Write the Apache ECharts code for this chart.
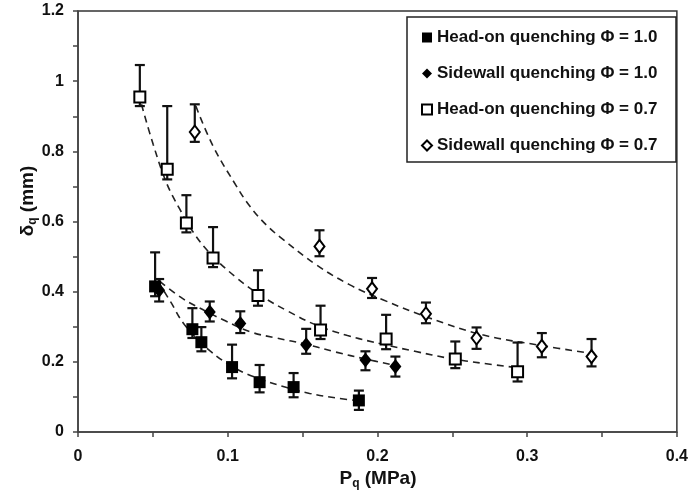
<!DOCTYPE html>
<html>
<head>
<meta charset="utf-8">
<script src="https://cdn.jsdelivr.net/npm/echarts@6/dist/echarts.min.js"></script>
<style>html,body{margin:0;padding:0;background:#fff}#c{width:691px;height:494px}</style>
</head>
<body>
<div id="c"></div>
<script>
// ---- Data ----
const seriesNames = ['Head-on quenching \u03A6 = 1.0', 'Sidewall quenching \u03A6 = 1.0', 'Head-on quenching \u03A6 = 0.7', 'Sidewall quenching \u03A6 = 0.7'];

const hq10X  = [0.0515, 0.0764, 0.0824, 0.1029, 0.1213, 0.144, 0.1876];
const hq10Y  = [0.415, 0.293, 0.256, 0.185, 0.142, 0.128, 0.090];
const hq10Hi = [0.512, 0.353, 0.299, 0.249, 0.191, 0.168, 0.118];
const hq10Lo = [0.387, 0.268, 0.230, 0.153, 0.113, 0.099, 0.063];

const sq10X  = [0.0542, 0.088, 0.1084, 0.1524, 0.192, 0.212];
const sq10Y  = [0.404, 0.342, 0.309, 0.249, 0.205, 0.187];
const sq10Hi = [0.436, 0.372, 0.344, 0.294, 0.230, 0.215];
const sq10Lo = [0.372, 0.315, 0.282, 0.223, 0.176, 0.158];

const hq07X  = [0.0413, 0.0596, 0.0724, 0.0902, 0.1202, 0.162, 0.2058, 0.252, 0.2936];
const hq07Y  = [0.955, 0.749, 0.596, 0.496, 0.389, 0.291, 0.265, 0.208, 0.172];
const hq07Hi = [1.046, 0.929, 0.675, 0.584, 0.461, 0.360, 0.334, 0.258, 0.255];
const hq07Lo = [0.929, 0.720, 0.569, 0.470, 0.360, 0.265, 0.236, 0.182, 0.144];

const sq07X  = [0.078, 0.1613, 0.1964, 0.2324, 0.2662, 0.3098, 0.343];
const sq07Y  = [0.855, 0.529, 0.408, 0.337, 0.268, 0.244, 0.215];
const sq07Hi = [0.934, 0.575, 0.439, 0.369, 0.298, 0.282, 0.265];
const sq07Lo = [0.827, 0.501, 0.382, 0.310, 0.237, 0.213, 0.187];

// dashed trend curves
const fitHq10X = [0.0533, 0.062, 0.0713, 0.088, 0.1058, 0.123, 0.14, 0.1547, 0.1724, 0.1876];
const fitHq10Y = [0.43, 0.37, 0.305, 0.232, 0.18, 0.149, 0.126, 0.11, 0.097, 0.089];
const fitSq10X = [0.0547, 0.07, 0.085, 0.0969, 0.1147, 0.1324, 0.1524, 0.172, 0.192, 0.212];
const fitSq10Y = [0.429, 0.38, 0.345, 0.32, 0.286, 0.268, 0.25, 0.228, 0.208, 0.19];
const fitHq07X = [0.0424, 0.0502, 0.0591, 0.068, 0.0769, 0.088, 0.1058, 0.1236, 0.14, 0.159, 0.18, 0.2036, 0.225, 0.248, 0.27, 0.2924];
const fitHq07Y = [0.934, 0.82, 0.71, 0.635, 0.57, 0.51, 0.44, 0.385, 0.345, 0.305, 0.275, 0.25, 0.23, 0.21, 0.196, 0.184];
const fitSq07X = [0.0787, 0.0902, 0.1058, 0.1147, 0.1258, 0.1369, 0.159, 0.1813, 0.2036, 0.2347, 0.2702, 0.3102, 0.3413];
const fitSq07Y = [0.929, 0.815, 0.701, 0.644, 0.59, 0.549, 0.477, 0.42, 0.377, 0.325, 0.277, 0.246, 0.225];

const xTicks = [0, 0.1, 0.2, 0.3, 0.4];
const yTicks = [0, 0.2, 0.4, 0.6, 0.8, 1, 1.2];

// ---- Build ----
const FONT = '"Liberation Sans", Arial, sans-serif';
const zip = (a, b) => a.map((v, i) => [v, b[i]]);
const zip3 = (a, b, c) => a.map((v, i) => [v, b[i], c[i]]);

function errRender(params, api) {
  const x = api.value(0), lo = api.value(1), hi = api.value(2);
  const t = api.coord([x, hi]);
  const b = api.coord([x, lo]);
  const w = 5;
  const st = { stroke: '#111', lineWidth: 2.2 };
  return {
    type: 'group',
    children: [
      { type: 'line', shape: { x1: t[0], y1: t[1], x2: b[0], y2: b[1] }, style: st },
      { type: 'line', shape: { x1: t[0] - w, y1: t[1], x2: t[0] + w, y2: t[1] }, style: st },
      { type: 'line', shape: { x1: b[0] - w, y1: b[1], x2: b[0] + w, y2: b[1] }, style: st }
    ]
  };
}

function errSeries(x, lo, hi) {
  return {
    type: 'custom', renderItem: errRender, data: zip3(x, lo, hi),
    encode: { x: 0, y: [1, 2] }, z: 2, silent: true
  };
}
function fitSeries(x, y) {
  return {
    type: 'line', data: zip(x, y), smooth: 0.4, showSymbol: false, symbol: 'none', z: 1,
    lineStyle: { color: '#222', width: 1.6, type: [7, 5] }, silent: true
  };
}

const markers = [
  { name: seriesNames[0], data: zip(hq10X, hq10Y), symbol: 'rect', symbolSize: 12, itemStyle: { color: '#000', borderWidth: 0, opacity: 1 } },
  { name: seriesNames[1], data: zip(sq10X, sq10Y), symbol: 'diamond', symbolSize: [12, 15], itemStyle: { color: '#000', borderWidth: 0, opacity: 1 } },
  { name: seriesNames[2], data: zip(hq07X, hq07Y), symbol: 'rect', symbolSize: 11, itemStyle: { color: '#fff', borderColor: '#000', borderWidth: 2, opacity: 1 } },
  { name: seriesNames[3], data: zip(sq07X, sq07Y), symbol: 'diamond', symbolSize: [10, 13], itemStyle: { color: '#fff', borderColor: '#000', borderWidth: 2, opacity: 1 } }
].map(s => Object.assign({ type: 'scatter', z: 3 }, s));

const chart = echarts.init(document.getElementById('c'));
chart.setOption({
  animation: false,
  backgroundColor: '#fff',
  textStyle: { fontFamily: FONT },
  grid: { left: 78, right: 13, top: 11, bottom: 62, show: true, borderColor: '#333', borderWidth: 1.5, backgroundColor: 'transparent' },
  xAxis: {
    type: 'value', min: 0, max: 0.4, interval: 0.05,
    axisLine: { lineStyle: { color: '#444', width: 1.5 } },
    axisTick: { show: true, length: 5, lineStyle: { color: '#444', width: 1.5 } },
    splitLine: { show: false },
    axisLabel: {
      color: '#111', fontWeight: 'bold', fontSize: 16, fontFamily: FONT, margin: 17,
      formatter: v => { const m = xTicks.find(t => Math.abs(t - v) < 1e-9); return m === undefined ? '' : String(m); }
    }
  },
  yAxis: {
    type: 'value', min: 0, max: 1.2, interval: 0.1,
    axisLine: { lineStyle: { color: '#444', width: 1.5 } },
    axisTick: { show: true, length: 5, lineStyle: { color: '#444', width: 1.5 } },
    splitLine: { show: false },
    axisLabel: {
      color: '#111', fontWeight: 'bold', fontSize: 16, fontFamily: FONT, margin: 14,
      formatter: v => { const m = yTicks.find(t => Math.abs(t - v) < 1e-9); return m === undefined ? '' : String(m); }
    }
  },
  legend: {
    orient: 'vertical', left: 421, top: 29, itemGap: 19, itemWidth: 10, itemHeight: 10, z: 20, padding: 0,
    data: seriesNames,
    textStyle: { color: '#111', fontWeight: 'bold', fontSize: 17, fontFamily: FONT },
    selectedMode: false
  },
  graphic: [
    { type: 'rect', shape: { x: 407, y: 17, width: 269, height: 145 }, style: { fill: '#fff', stroke: '#222', lineWidth: 1.5 }, z: 5 },
    {
      type: 'text', x: 378, y: 479, z: 10,
      style: {
        text: '{a|P}{s|q}{a| (MPa)}', align: 'center', verticalAlign: 'middle',
        rich: { a: { fontSize: 19, fontWeight: 'bold', fontFamily: FONT, fill: '#111' }, s: { fontSize: 12, fontWeight: 'bold', fontFamily: FONT, fill: '#111', padding: [10, 0, 0, 0] } }
      }
    },
    {
      type: 'text', x: 28, y: 201, rotation: Math.PI / 2, z: 10,
      style: {
        text: '{a|\u03B4}{s|q}{a| (mm)}', align: 'center', verticalAlign: 'middle',
        rich: { a: { fontSize: 19, fontWeight: 'bold', fontFamily: FONT, fill: '#111' }, s: { fontSize: 12, fontWeight: 'bold', fontFamily: FONT, fill: '#111', padding: [10, 0, 0, 0] } }
      }
    }
  ],
  series: [
    fitSeries(fitHq10X, fitHq10Y), fitSeries(fitSq10X, fitSq10Y), fitSeries(fitHq07X, fitHq07Y), fitSeries(fitSq07X, fitSq07Y),
    errSeries(hq10X, hq10Lo, hq10Hi), errSeries(sq10X, sq10Lo, sq10Hi), errSeries(hq07X, hq07Lo, hq07Hi), errSeries(sq07X, sq07Lo, sq07Hi),
    ...markers
  ]
});
</script>
</body>
</html>
